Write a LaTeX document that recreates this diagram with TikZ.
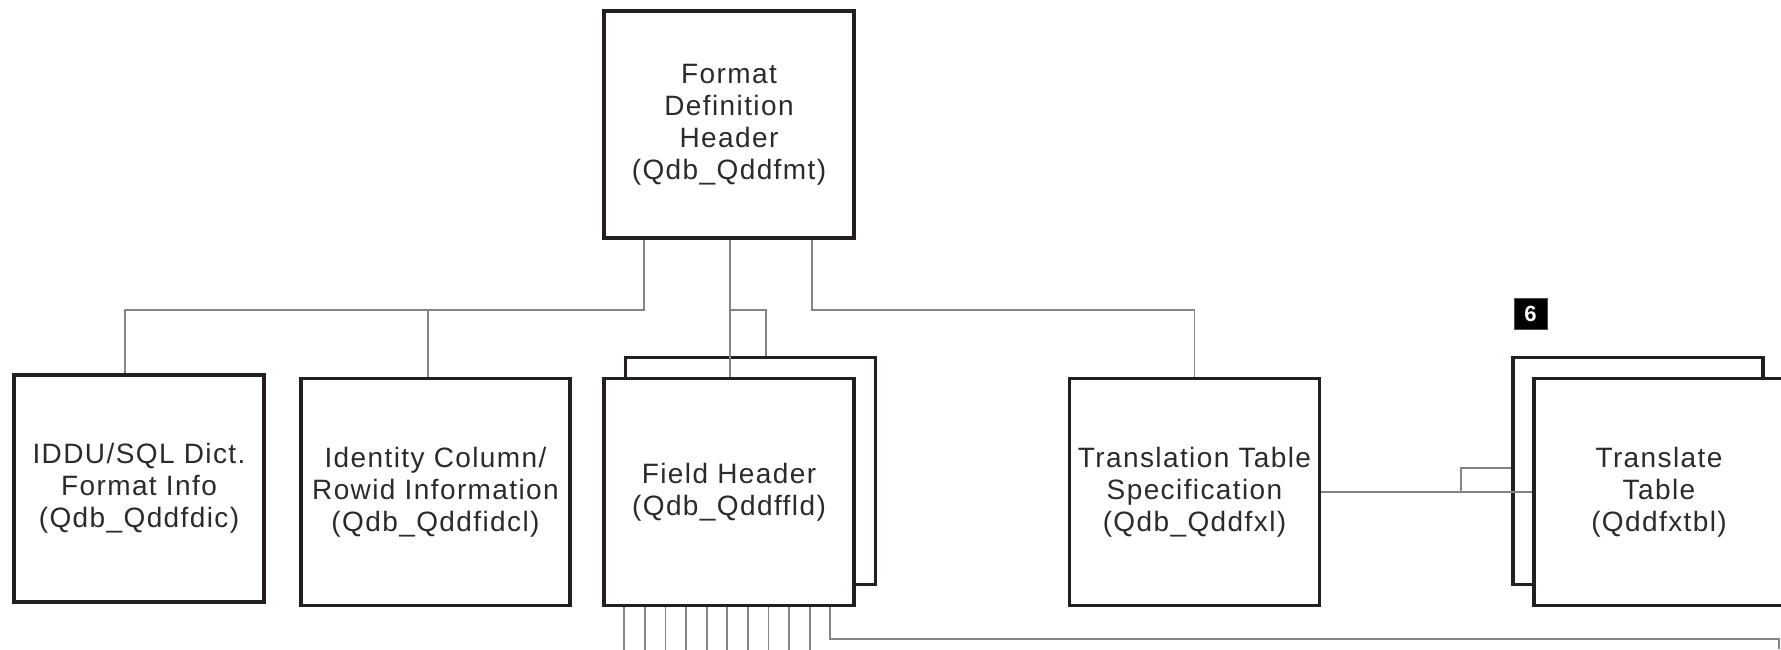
\documentclass[tikz,border=0pt]{standalone}
\usepackage{fontspec}
\setmainfont{Liberation Sans}[LetterSpace=5]
\usepackage{xcolor}
\definecolor{boxline}{HTML}{231F20}
\definecolor{linkgray}{HTML}{858585}
\definecolor{txt}{HTML}{2B2B2B}
\tikzset{
  box/.style = {draw=boxline, line width=3.5pt, fill=white, minimum width=250pt,
    minimum height=227pt, inner sep=0pt, align=center, text=txt,
    font=\fontsize{28}{32}\selectfont},
  link/.style = {draw=linkgray, line width=1.8pt},
  badge/.style = {fill=black, draw=black!70, text=white, minimum width=33pt,
    minimum height=31pt, inner sep=0pt, font=\bfseries\fontsize{22}{22}\selectfont}
}

\begin{document}
\begin{tikzpicture}[x=1pt, y=-1pt]

  \path[use as bounding box, clip] (0,0) rectangle (1781,649);

  \node[box] (fmt) at (729,124.5) {Format\\Definition\\Header\\(Qdb\_Qddfmt)};
  \node[box] (dic) at (139,488.5) {IDDU/SQL Dict.\\Format Info\\(Qdb\_Qddfdic)};
  \node[box, minimum width=269pt] (idcl) at (435.5,492) {Identity Column/\\Rowid Information\\(Qdb\_Qddfidcl)};
  \node[box] (fldback) at (750.5,471) {};
  \node[box] (fld) at (729,492) {Field Header\\(Qdb\_Qddffld)};
  \node[box] (xl) at (1194.5,492) {Translation Table\\Specification\\(Qdb\_Qddfxl)};
  \node[box] (xtblback) at (1638,471) {};
  \node[box] (xtbl) at (1659,492) {Translate\\Table\\(Qddfxtbl)};
  \node[badge] (six) at (1530.5,313.5) {6};

  \draw[link] ([xshift=-85pt]fmt.south) -- ++(0,70) -| ([xshift=-14pt]dic.north);
  \draw[link] ([xshift=-85pt]fmt.south) ++(0,70) -| ([xshift=-7.5pt]idcl.north);
  \draw[link] ([xshift=1pt]fmt.south) -- ([xshift=1pt]fld.north);
  \draw[link] ([xshift=1pt]fmt.south) ++(0,70) -| ([xshift=15.5pt]fldback.north);
  \draw[link] ([xshift=83pt]fmt.south) -- ++(0,70) -| (xl.north);

  \draw[link] (xl.east) -- (xtbl.west);
  \draw[link] ([xshift=-71pt]xtbl.west) |- ([yshift=3pt]xtblback.west);

  \foreach \i in {0,...,9}
    \draw[link] ([xshift={22pt+20.6pt*\i}]fld.south west) -- ++(0,44);
  \coordinate (edge) at (1779,649);
  \draw[link] ([xshift=228pt]fld.south west) -- ++(0,32) -| (edge);
\end{tikzpicture}
\end{document}
